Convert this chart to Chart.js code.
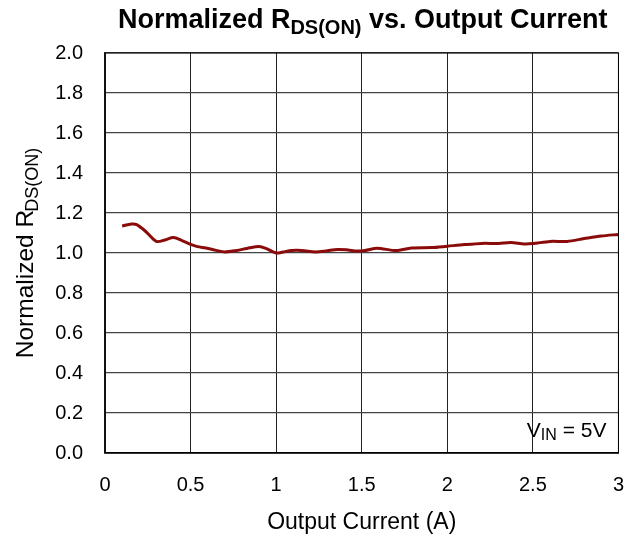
<!DOCTYPE html>
<html>
<head>
<meta charset="utf-8">
<script src="https://cdn.jsdelivr.net/npm/chart.js@4"></script>
<style>
html,body{margin:0;padding:0;background:#fff;}
#wrap{width:644px;height:537px;}
</style>
</head>
<body>
<div id="wrap"><canvas id="c" width="644" height="537"></canvas></div>
<script>
const outputCurrent = [0.10,0.155,0.185,0.235,0.30,0.35,0.40,0.45,0.50,0.54,0.59,0.65,0.70,0.77,0.83,0.90,0.94,1.00,1.04,1.09,1.15,1.23,1.29,1.36,1.42,1.47,1.52,1.59,1.70,1.79,1.91,2.00,2.10,2.20,2.30,2.37,2.45,2.50,2.60,2.70,2.80,2.90,3.00];
const normalizedRds = [1.135,1.145,1.142,1.11,1.058,1.065,1.077,1.062,1.043,1.032,1.025,1.013,1.005,1.013,1.023,1.032,1.023,1.000,1.005,1.013,1.013,1.005,1.010,1.018,1.015,1.010,1.013,1.024,1.012,1.025,1.027,1.034,1.042,1.048,1.048,1.053,1.045,1.047,1.058,1.058,1.072,1.085,1.093];
const xTickLabels = ['0','0.5','1','1.5','2','2.5','3'];
const yTickLabels = ['0.0','0.2','0.4','0.6','0.8','1.0','1.2','1.4','1.6','1.8','2.0'];
const titleMain = 'Normalized R';
const titleSub = 'DS(ON)';
const titleRest = ' vs. Output Current';
const yTitleMain = 'Normalized R';
const yTitleSub = 'DS(ON)';
const xTitle = 'Output Current (A)';
const noteMain = 'V';
const noteSub = 'IN';
const noteRest = ' = 5V';

const FONT = '"Liberation Sans", Arial, sans-serif';

function drawRich(ctx, x, y, parts, align) {
  let total = 0;
  parts.forEach(p => { ctx.font = (p.bold ? 'bold ' : '') + p.size + 'px ' + FONT; p.w = ctx.measureText(p.t).width + (p.kern || 0); total += p.w; });
  let cx = align === 'center' ? x - total / 2 : (align === 'right' ? x - total : x);
  parts.forEach(p => {
    ctx.font = (p.bold ? 'bold ' : '') + p.size + 'px ' + FONT;
    ctx.fillText(p.t, cx + (p.kern || 0), y + (p.dy || 0));
    cx += p.w;
  });
}

const textPlugin = {
  id: 'texts',
  afterDraw(chart) {
    const ctx = chart.ctx;
    const a = chart.chartArea;
    ctx.save();
    ctx.fillStyle = '#000';
    ctx.textBaseline = 'alphabetic';
    ctx.textAlign = 'left';
    drawRich(ctx, (a.left + a.right) / 2 + 1, 28, [
      {t: titleMain, size: 27, bold: true},
      {t: titleSub, size: 20, bold: true, dy: 6},
      {t: titleRest, size: 27, bold: true}
    ], 'center');
    drawRich(ctx, (a.left + a.right) / 2, 529, [{t: xTitle, size: 23}], 'center');
    ctx.save();
    ctx.translate(33, (a.top + a.bottom) / 2);
    ctx.rotate(-Math.PI / 2);
    drawRich(ctx, 0, 0, [
      {t: yTitleMain, size: 24.5},
      {t: yTitleSub, size: 18, dy: 5, kern: -2}
    ], 'center');
    ctx.restore();
    drawRich(ctx, a.right - 12, 437, [
      {t: noteMain, size: 21},
      {t: noteSub, size: 16, dy: 3},
      {t: noteRest, size: 21}
    ], 'right');
    ctx.restore();
  }
};

new Chart(document.getElementById('c'), {
  type: 'line',
  data: {
    datasets: [{
      data: outputCurrent.map((x, i) => ({x: x, y: normalizedRds[i]})),
      borderColor: '#8b0a0a',
      borderWidth: 3,
      pointRadius: 0,
      tension: 0.3,
      fill: false
    }]
  },
  options: {
    responsive: false,
    animation: false,
    devicePixelRatio: 1,
    layout: {padding: {top: 53, right: 22, bottom: 0, left: 0}},
    plugins: {legend: {display: false}, tooltip: {enabled: false}, title: {display: false}},
    scales: {
      x: {
        type: 'linear', min: 0, max: 3,
        afterFit(s) { s.height = 84; },
        afterBuildTicks(s) { s.ticks = xTickLabels.map(v => ({value: parseFloat(v)})); },
        ticks: {
          callback: (v, i) => xTickLabels[i],
          font: {family: FONT, size: 20}, color: '#000', padding: 20, maxRotation: 0
        },
        grid: {color: '#222', lineWidth: 1, drawTicks: false},
        border: {color: '#000', width: 1.5}
      },
      y: {
        type: 'linear', min: 0, max: 2,
        afterFit(s) { s.width = 105; },
        afterBuildTicks(s) { s.ticks = yTickLabels.map(v => ({value: parseFloat(v)})); },
        ticks: {
          callback: (v, i) => yTickLabels[i],
          font: {family: FONT, size: 20}, color: '#000', padding: 22
        },
        grid: {color: '#444', lineWidth: 1.2, drawTicks: false},
        border: {color: '#222', width: 1.5}
      }
    }
  },
  plugins: [textPlugin, {
    id: 'frame',
    afterDatasetsDraw(chart) {
      const {ctx, chartArea: a} = chart;
      ctx.save();
      ctx.strokeStyle = '#000';
      ctx.lineWidth = 1;
      ctx.strokeRect(a.left, a.top, a.right - a.left, a.bottom - a.top);
      ctx.restore();
    }
  }]
});
</script>
</body>
</html>
